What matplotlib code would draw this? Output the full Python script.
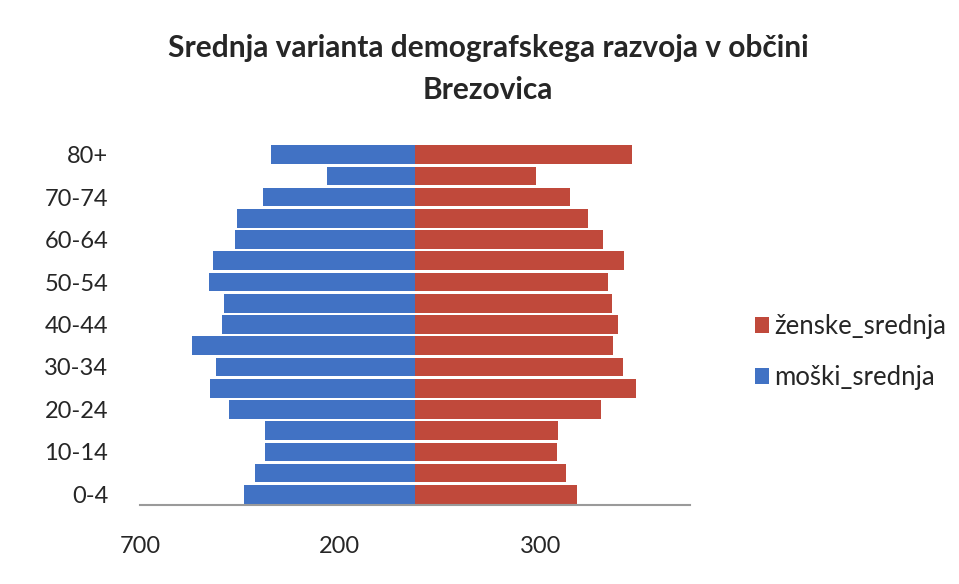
import matplotlib
matplotlib.use("Agg")
import matplotlib.pyplot as plt
import numpy as np

# ─── DATA ───────────────────────────────────────────────────────────────────────
age_groups = ["0-4", "5-9", "10-14", "15-19", "20-24", "25-29", "30-34", "35-39",
              "40-44", "45-49", "50-54", "55-59", "60-64", "65-69", "70-74", "75-79", "80+"]
moski_srednja = [344, 322, 302, 302, 374, 412, 400, 448, 388, 384, 414, 406, 362, 358, 306, 176, 290]
zenske_srednja = [326, 304, 286, 288, 374, 444, 418, 398, 408, 396, 388, 420, 378, 348, 312, 242, 436]

# x-axis labels as printed on the original chart
x_tick_pos = [-552, -152, 252]
x_tick_labels = ["700", "200", "300"]

TITLE = "Srednja varianta demografskega razvoja v občini\nBrezovica"
BLUE = "#4172C4"
RED = "#C0493B"
# ────────────────────────────────────────────────────────────────────────────────

plt.rcParams["font.family"] = ["Lato", "DejaVu Sans"]

fig = plt.figure(figsize=(9.59, 5.84), dpi=100)
ax = fig.add_axes([0.146, 0.1353, 0.5735, 0.618])

y = np.arange(len(age_groups))
ax.barh(y, -np.array(moski_srednja), height=0.88, color=BLUE, label="moški_srednja")
ax.barh(y, zenske_srednja, height=0.88, color=RED, label="ženske_srednja")

ax.set_xlim(-548, 552)
ax.set_ylim(-0.5, len(age_groups) - 0.5)

ax.set_yticks(y[::2])
ax.set_yticklabels(age_groups[::2], fontsize=17, color="#262626")
ax.set_xticks(x_tick_pos)
ax.set_xticklabels(x_tick_labels, fontsize=17, color="#262626")
ax.tick_params(axis="y", length=0, pad=23)
ax.tick_params(axis="x", length=0, pad=22)

for s in ["top", "right", "left"]:
    ax.spines[s].set_visible(False)
ax.spines["bottom"].set_color("#9A9A9A")
ax.spines["bottom"].set_linewidth(1.5)

fig.text(0.509, 0.882, TITLE, ha="center", va="center", fontsize=21.5,
         fontweight="bold", color="#262626", linespacing=1.6)

handles, labels = ax.get_legend_handles_labels()
fig.legend(handles[::-1], labels[::-1], loc="center left", bbox_to_anchor=(0.763, 0.397),
           frameon=False, fontsize=18.5, handlelength=0.55, handleheight=0.55,
           handletextpad=0.2, labelspacing=1.0, labelcolor="#262626")

fig.savefig("out.png", dpi=100)
